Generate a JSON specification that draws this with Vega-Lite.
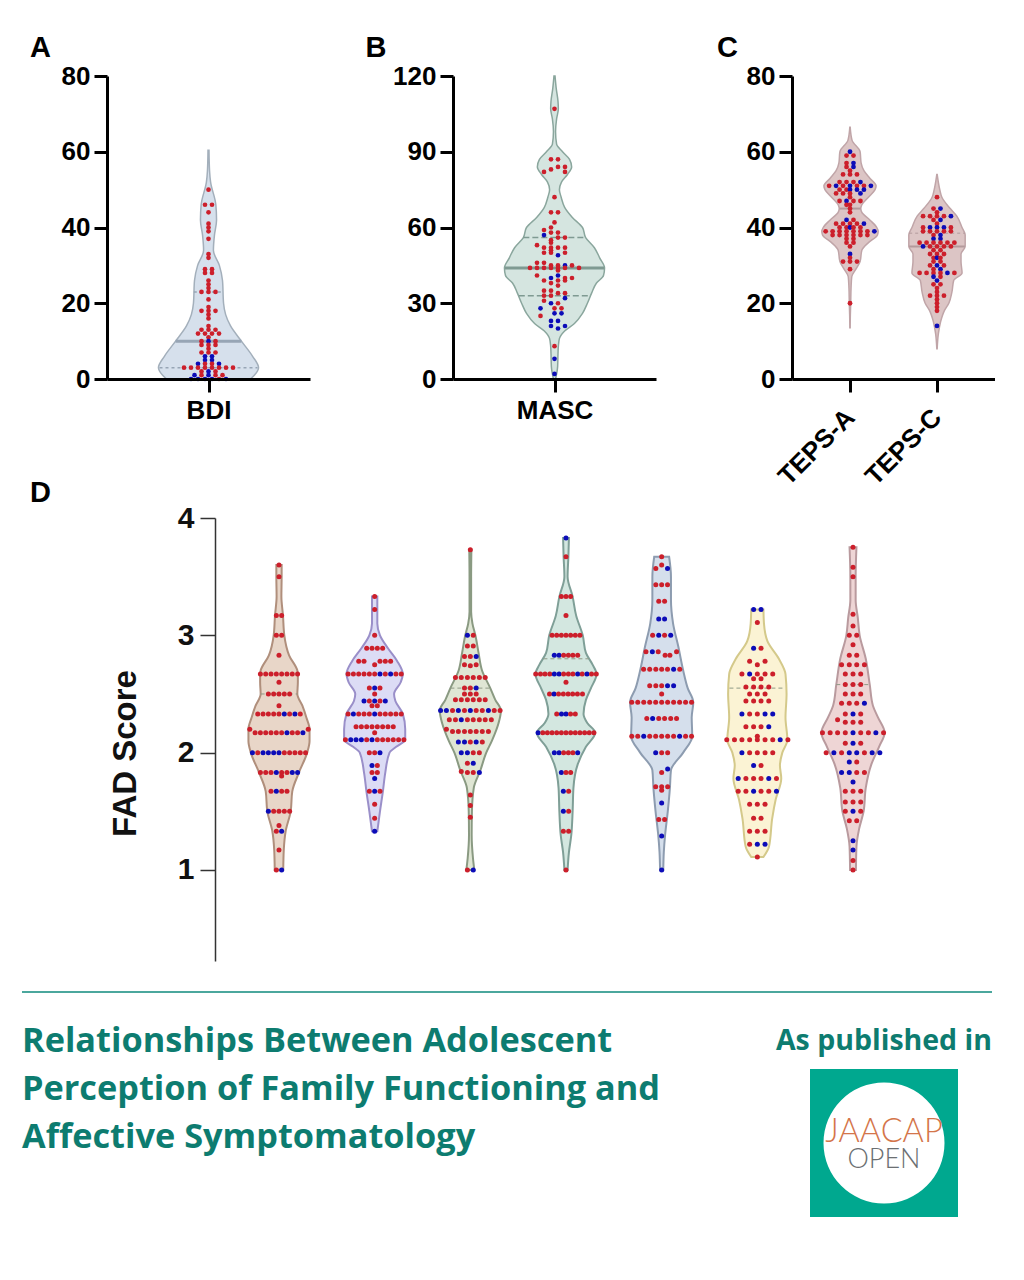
{
"$schema":"https://vega.github.io/schema/vega-lite/v6.json",
"background":"white",
"padding":{"left":21,"top":34,"right":0,"bottom":0},
"config":{"view":{"stroke":null},"font":"Liberation Sans"},
"datasets":{
"shapeA":[{"y":60.4,"l":-0.14,"r":0.14},{"y":55,"l":-0.3,"r":0.3},{"y":52,"l":-0.6,"r":0.6},{"y":46,"l":-2.1,"r":2.1},{"y":42,"l":-2.3,"r":2.3},{"y":38,"l":-1.7,"r":1.7},{"y":34,"l":-1.4,"r":1.4},{"y":30,"l":-3.1,"r":3.1},{"y":26,"l":-4,"r":4},{"y":20,"l":-4.3,"r":4.3},{"y":17,"l":-4.9,"r":4.9},{"y":14,"l":-6.3,"r":6.3},{"y":10,"l":-9.4,"r":9.4},{"y":6,"l":-12.6,"r":12.6},{"y":3,"l":-14.3,"r":14.3},{"y":1,"l":-13.1,"r":13.1},{"y":0,"l":-12,"r":12}],
"linesA":[{"y":10,"l":-9.4,"r":9.4,"m":"median"},{"y":3,"l":-14,"r":14,"m":"quartile"},{"y":23,"l":-4.2,"r":4.2,"m":"quartile"}],
"dotsA":[{"x":0,"y":50,"c":"r"},{"x":-1,"y":46,"c":"r"},{"x":1,"y":46,"c":"r"},{"x":0,"y":44,"c":"r"},{"x":0,"y":41,"c":"r"},{"x":0,"y":40,"c":"r"},{"x":0,"y":39,"c":"r"},{"x":0,"y":37,"c":"r"},{"x":0,"y":33,"c":"r"},{"x":0,"y":32,"c":"r"},{"x":-1,"y":29,"c":"r"},{"x":1,"y":29,"c":"r"},{"x":-1,"y":28,"c":"r"},{"x":1,"y":28,"c":"r"},{"x":0,"y":26,"c":"r"},{"x":0,"y":25,"c":"r"},{"x":0,"y":24,"c":"r"},{"x":-2,"y":23,"c":"r"},{"x":0,"y":23,"c":"r"},{"x":2,"y":23,"c":"r"},{"x":0,"y":21,"c":"r"},{"x":0,"y":19,"c":"r"},{"x":-2,"y":18,"c":"r"},{"x":0,"y":18,"c":"r"},{"x":2,"y":18,"c":"r"},{"x":0,"y":17,"c":"r"},{"x":0,"y":16,"c":"r"},{"x":0,"y":14,"c":"r"},{"x":-2,"y":13,"c":"r"},{"x":0,"y":13,"c":"r"},{"x":2,"y":13,"c":"r"},{"x":-3,"y":12,"c":"r"},{"x":-1,"y":12,"c":"r"},{"x":1,"y":12,"c":"r"},{"x":3,"y":12,"c":"r"},{"x":0,"y":11,"c":"r"},{"x":-2,"y":10,"c":"r"},{"x":0,"y":10,"c":"b"},{"x":2,"y":10,"c":"r"},{"x":-2,"y":9,"c":"r"},{"x":0,"y":9,"c":"r"},{"x":2,"y":9,"c":"r"},{"x":0,"y":8,"c":"r"},{"x":-2,"y":7,"c":"r"},{"x":0,"y":7,"c":"r"},{"x":2,"y":7,"c":"r"},{"x":-1,"y":6,"c":"b"},{"x":1,"y":6,"c":"b"},{"x":-1,"y":5,"c":"b"},{"x":1,"y":5,"c":"b"},{"x":-3,"y":4,"c":"b"},{"x":-1,"y":4,"c":"r"},{"x":1,"y":4,"c":"r"},{"x":3,"y":4,"c":"b"},{"x":-7,"y":3,"c":"r"},{"x":-5,"y":3,"c":"r"},{"x":-3,"y":3,"c":"r"},{"x":-1,"y":3,"c":"r"},{"x":1,"y":3,"c":"r"},{"x":3,"y":3,"c":"r"},{"x":5,"y":3,"c":"r"},{"x":7,"y":3,"c":"r"},{"x":-2,"y":2,"c":"r"},{"x":0,"y":2,"c":"b"},{"x":2,"y":2,"c":"r"},{"x":-4,"y":1,"c":"b"},{"x":-2,"y":1,"c":"r"},{"x":0,"y":1,"c":"b"},{"x":2,"y":1,"c":"r"},{"x":4,"y":1,"c":"r"},{"x":-5,"y":0,"c":"b"},{"x":-3,"y":0,"c":"b"},{"x":-1,"y":0,"c":"b"},{"x":1,"y":0,"c":"b"},{"x":3,"y":0,"c":"r"},{"x":5,"y":0,"c":"b"}],
"shapeB":[{"y":120,"l":-0.15,"r":0.15},{"y":115,"l":-0.5,"r":0.5},{"y":110,"l":-1,"r":1},{"y":107,"l":-1.1,"r":1.1},{"y":103,"l":-0.6,"r":0.6},{"y":98,"l":-0.3,"r":0.3},{"y":93,"l":-0.6,"r":0.6},{"y":90,"l":-2.3,"r":2.3},{"y":87,"l":-4.3,"r":4.3},{"y":84,"l":-4.9,"r":4.9},{"y":81,"l":-3.7,"r":3.7},{"y":78,"l":-2,"r":2},{"y":75,"l":-1.4,"r":1.4},{"y":72,"l":-1.9,"r":1.9},{"y":68,"l":-2.9,"r":2.9},{"y":64,"l":-5.1,"r":5.1},{"y":60,"l":-8,"r":8},{"y":56,"l":-8.9,"r":8.9},{"y":52,"l":-11.4,"r":11.4},{"y":48,"l":-12.9,"r":12.9},{"y":44,"l":-14.3,"r":14.3},{"y":41,"l":-14,"r":14},{"y":38,"l":-12,"r":12},{"y":34,"l":-10.6,"r":10.6},{"y":30,"l":-9.4,"r":9.4},{"y":26,"l":-8,"r":8},{"y":22,"l":-5.7,"r":5.7},{"y":19,"l":-2.9,"r":2.9},{"y":16,"l":-1.4,"r":1.4},{"y":13,"l":-1.1,"r":1.1},{"y":10,"l":-1,"r":1},{"y":5,"l":-0.9,"r":0.9},{"y":0,"l":-0.3,"r":0.3}],
"linesB":[{"y":44,"l":-14.2,"r":14.2,"m":"median"},{"y":56,"l":-8.9,"r":8.9,"m":"quartile"},{"y":33,"l":-10.2,"r":10.2,"m":"quartile"}],
"dotsB":[{"x":0,"y":107,"c":"r"},{"x":-1,"y":87,"c":"r"},{"x":1,"y":87,"c":"r"},{"x":1,"y":84,"c":"r"},{"x":3,"y":84,"c":"r"},{"x":-1,"y":83,"c":"r"},{"x":-3,"y":82,"c":"r"},{"x":3,"y":82,"c":"r"},{"x":0,"y":72,"c":"r"},{"x":-1,"y":66,"c":"r"},{"x":1,"y":66,"c":"r"},{"x":0,"y":62,"c":"r"},{"x":-1,"y":60,"c":"r"},{"x":-3,"y":59,"c":"r"},{"x":-1,"y":58,"c":"r"},{"x":1,"y":58,"c":"r"},{"x":-3,"y":57,"c":"b"},{"x":1,"y":56,"c":"r"},{"x":3,"y":56,"c":"r"},{"x":-1,"y":55,"c":"r"},{"x":-1,"y":54,"c":"r"},{"x":-5,"y":53,"c":"r"},{"x":-3,"y":52,"c":"r"},{"x":-1,"y":52,"c":"r"},{"x":1,"y":52,"c":"r"},{"x":3,"y":52,"c":"r"},{"x":-1,"y":51,"c":"r"},{"x":-3,"y":50,"c":"r"},{"x":-1,"y":50,"c":"r"},{"x":3,"y":50,"c":"r"},{"x":1,"y":49,"c":"b"},{"x":-5,"y":46,"c":"r"},{"x":-3,"y":46,"c":"r"},{"x":-1,"y":45,"c":"r"},{"x":1,"y":45,"c":"r"},{"x":3,"y":45,"c":"b"},{"x":5,"y":45,"c":"r"},{"x":-7,"y":44,"c":"r"},{"x":-5,"y":44,"c":"r"},{"x":-3,"y":44,"c":"r"},{"x":-1,"y":44,"c":"r"},{"x":1,"y":44,"c":"r"},{"x":3,"y":44,"c":"r"},{"x":7,"y":44,"c":"r"},{"x":1,"y":43,"c":"r"},{"x":-5,"y":41,"c":"r"},{"x":1,"y":41,"c":"b"},{"x":-1,"y":40,"c":"b"},{"x":3,"y":40,"c":"r"},{"x":5,"y":40,"c":"r"},{"x":-3,"y":39,"c":"r"},{"x":1,"y":39,"c":"r"},{"x":3,"y":39,"c":"r"},{"x":-1,"y":38,"c":"r"},{"x":1,"y":37,"c":"r"},{"x":-3,"y":35,"c":"r"},{"x":-1,"y":35,"c":"r"},{"x":1,"y":34,"c":"r"},{"x":3,"y":34,"c":"r"},{"x":-3,"y":33,"c":"r"},{"x":-1,"y":33,"c":"r"},{"x":3,"y":32,"c":"b"},{"x":-3,"y":31,"c":"r"},{"x":-1,"y":30,"c":"b"},{"x":1,"y":30,"c":"r"},{"x":-4,"y":28,"c":"b"},{"x":0,"y":28,"c":"r"},{"x":2,"y":28,"c":"r"},{"x":0,"y":26,"c":"b"},{"x":2,"y":26,"c":"b"},{"x":-4,"y":25,"c":"r"},{"x":-1,"y":23,"c":"b"},{"x":1,"y":23,"c":"b"},{"x":-1,"y":21,"c":"b"},{"x":3,"y":21,"c":"b"},{"x":1,"y":20,"c":"b"},{"x":0,"y":13,"c":"r"},{"x":0,"y":8,"c":"b"},{"x":0,"y":2,"c":"b"}],
"shapeC":[{"s":"A","y":66.5,"l":19.95,"r":20.05},{"s":"A","y":63,"l":19.4,"r":20.6},{"s":"A","y":60,"l":17.1,"r":22.9},{"s":"A","y":57,"l":16.8,"r":23.2},{"s":"A","y":55,"l":16,"r":24},{"s":"A","y":53,"l":14.3,"r":25.7},{"s":"A","y":51,"l":12.5,"r":27.5},{"s":"A","y":50,"l":12.8,"r":27.2},{"s":"A","y":48,"l":14.7,"r":25.3},{"s":"A","y":46,"l":16.6,"r":23.4},{"s":"A","y":45,"l":16.9,"r":23.1},{"s":"A","y":44,"l":16.6,"r":23.4},{"s":"A","y":42,"l":14.3,"r":25.7},{"s":"A","y":40,"l":12.3,"r":27.7},{"s":"A","y":39,"l":11.9,"r":28.1},{"s":"A","y":38,"l":12.1,"r":27.9},{"s":"A","y":36,"l":14.7,"r":25.3},{"s":"A","y":34,"l":16.6,"r":23.4},{"s":"A","y":31,"l":17.1,"r":22.9},{"s":"A","y":29,"l":18.3,"r":21.7},{"s":"A","y":27,"l":19.5,"r":20.5},{"s":"A","y":24,"l":19.7,"r":20.3},{"s":"A","y":20,"l":19.8,"r":20.2},{"s":"A","y":17,"l":19.9,"r":20.1},{"s":"A","y":13.5,"l":19.95,"r":20.05},
{"s":"C","y":54,"l":44.95,"r":45.05},{"s":"C","y":50,"l":44.2,"r":45.8},{"s":"C","y":48,"l":43.6,"r":46.4},{"s":"C","y":45,"l":41.2,"r":48.8},{"s":"C","y":43,"l":39.3,"r":50.7},{"s":"C","y":40,"l":37.8,"r":52.2},{"s":"C","y":38,"l":36.9,"r":53.1},{"s":"C","y":35,"l":36.9,"r":53.1},{"s":"C","y":33,"l":38.1,"r":51.9},{"s":"C","y":31,"l":38.1,"r":51.9},{"s":"C","y":28,"l":37.8,"r":52.2},{"s":"C","y":26,"l":40.2,"r":49.8},{"s":"C","y":23,"l":40.7,"r":49.3},{"s":"C","y":20,"l":41.6,"r":48.4},{"s":"C","y":18,"l":42.9,"r":47.1},{"s":"C","y":15,"l":44,"r":46},{"s":"C","y":12,"l":44.6,"r":45.4},{"s":"C","y":8,"l":44.95,"r":45.05}],
"linesC":[{"y":45,"l":17,"r":23,"m":"median"},{"y":35,"l":37,"r":53,"m":"median"},{"y":38.5,"l":37,"r":53,"m":"quartile"}],
"dotsC":[{"x":20,"y":60,"c":"b"},{"x":19,"y":59,"c":"r"},{"x":21,"y":59,"c":"r"},{"x":19,"y":57,"c":"r"},{"x":21,"y":57,"c":"b"},{"x":19,"y":56,"c":"r"},{"x":21,"y":56,"c":"b"},{"x":20,"y":55,"c":"r"},{"x":18,"y":54,"c":"r"},{"x":20,"y":54,"c":"r"},{"x":22,"y":54,"c":"r"},{"x":17,"y":52,"c":"r"},{"x":19,"y":52,"c":"r"},{"x":21,"y":52,"c":"r"},{"x":23,"y":52,"c":"b"},{"x":14,"y":51,"c":"r"},{"x":16,"y":51,"c":"b"},{"x":18,"y":51,"c":"r"},{"x":20,"y":51,"c":"b"},{"x":22,"y":51,"c":"r"},{"x":24,"y":51,"c":"r"},{"x":26,"y":51,"c":"b"},{"x":17,"y":50,"c":"r"},{"x":19,"y":50,"c":"r"},{"x":20,"y":50,"c":"b"},{"x":22,"y":50,"c":"b"},{"x":24,"y":50,"c":"b"},{"x":16,"y":49,"c":"r"},{"x":18,"y":49,"c":"r"},{"x":20,"y":49,"c":"r"},{"x":23,"y":49,"c":"b"},{"x":20,"y":48,"c":"r"},{"x":17,"y":47,"c":"r"},{"x":19,"y":47,"c":"b"},{"x":21,"y":47,"c":"r"},{"x":23,"y":47,"c":"r"},{"x":20,"y":46,"c":"r"},{"x":19,"y":46,"c":"r"},{"x":20,"y":45,"c":"r"},{"x":20,"y":44,"c":"r"},{"x":19,"y":42,"c":"b"},{"x":21,"y":42,"c":"r"},{"x":16,"y":41,"c":"r"},{"x":18,"y":41,"c":"r"},{"x":20,"y":41,"c":"r"},{"x":22,"y":41,"c":"r"},{"x":24,"y":41,"c":"b"},{"x":17,"y":40,"c":"r"},{"x":19,"y":40,"c":"r"},{"x":20,"y":40,"c":"b"},{"x":21,"y":40,"c":"r"},{"x":23,"y":40,"c":"r"},{"x":13,"y":39,"c":"r"},{"x":15,"y":39,"c":"r"},{"x":17,"y":39,"c":"r"},{"x":19,"y":39,"c":"r"},{"x":21,"y":39,"c":"r"},{"x":23,"y":39,"c":"r"},{"x":25,"y":39,"c":"r"},{"x":27,"y":39,"c":"b"},{"x":15,"y":38,"c":"r"},{"x":17,"y":38,"c":"r"},{"x":19,"y":38,"c":"r"},{"x":21,"y":38,"c":"r"},{"x":23,"y":38,"c":"r"},{"x":25,"y":38,"c":"r"},{"x":19,"y":37,"c":"r"},{"x":21,"y":37,"c":"r"},{"x":19,"y":36,"c":"r"},{"x":21,"y":36,"c":"r"},{"x":20,"y":35,"c":"r"},{"x":20,"y":33,"c":"b"},{"x":20,"y":32,"c":"r"},{"x":18,"y":31,"c":"r"},{"x":20,"y":31,"c":"r"},{"x":22,"y":31,"c":"r"},{"x":20,"y":29,"c":"r"},{"x":20,"y":20,"c":"r"},
{"x":45,"y":48,"c":"r"},{"x":44,"y":45,"c":"r"},{"x":46,"y":45,"c":"b"},{"x":45,"y":44,"c":"r"},{"x":41,"y":43,"c":"r"},{"x":43,"y":43,"c":"r"},{"x":45,"y":43,"c":"r"},{"x":47,"y":43,"c":"r"},{"x":49,"y":43,"c":"b"},{"x":46,"y":42,"c":"b"},{"x":44,"y":42,"c":"r"},{"x":45,"y":41,"c":"r"},{"x":41,"y":40,"c":"r"},{"x":43,"y":40,"c":"b"},{"x":45,"y":40,"c":"b"},{"x":47,"y":40,"c":"b"},{"x":49,"y":40,"c":"r"},{"x":41,"y":39,"c":"r"},{"x":43,"y":39,"c":"r"},{"x":45,"y":39,"c":"r"},{"x":47,"y":39,"c":"r"},{"x":49,"y":39,"c":"r"},{"x":44,"y":38,"c":"r"},{"x":46,"y":38,"c":"b"},{"x":44,"y":37,"c":"b"},{"x":46,"y":37,"c":"b"},{"x":40,"y":36,"c":"r"},{"x":42,"y":36,"c":"r"},{"x":44,"y":36,"c":"r"},{"x":46,"y":36,"c":"r"},{"x":48,"y":36,"c":"r"},{"x":50,"y":36,"c":"r"},{"x":41,"y":35,"c":"b"},{"x":43,"y":35,"c":"r"},{"x":45,"y":35,"c":"r"},{"x":47,"y":35,"c":"r"},{"x":49,"y":35,"c":"r"},{"x":44,"y":34,"c":"r"},{"x":46,"y":34,"c":"r"},{"x":43,"y":33,"c":"r"},{"x":45,"y":33,"c":"r"},{"x":47,"y":33,"c":"r"},{"x":44,"y":32,"c":"r"},{"x":45,"y":32,"c":"b"},{"x":46,"y":32,"c":"r"},{"x":44,"y":31,"c":"r"},{"x":46,"y":31,"c":"r"},{"x":43,"y":30,"c":"r"},{"x":45,"y":30,"c":"b"},{"x":47,"y":30,"c":"r"},{"x":44,"y":29,"c":"r"},{"x":46,"y":29,"c":"b"},{"x":40,"y":28,"c":"r"},{"x":42,"y":28,"c":"r"},{"x":44,"y":28,"c":"r"},{"x":46,"y":28,"c":"r"},{"x":48,"y":28,"c":"b"},{"x":50,"y":28,"c":"r"},{"x":44,"y":27,"c":"b"},{"x":46,"y":27,"c":"r"},{"x":45,"y":26,"c":"b"},{"x":44,"y":25,"c":"r"},{"x":46,"y":25,"c":"r"},{"x":45,"y":24,"c":"r"},{"x":45,"y":23,"c":"r"},{"x":43,"y":22,"c":"r"},{"x":45,"y":22,"c":"r"},{"x":47,"y":22,"c":"r"},{"x":45,"y":21,"c":"r"},{"x":45,"y":20,"c":"r"},{"x":45,"y":19,"c":"r"},{"x":45,"y":18,"c":"r"},{"x":45,"y":14,"c":"b"}],
"shapeD":[
{"s":36,"y":3.6,"l":35,"r":37},{"s":36,"y":3.5,"l":35,"r":37},{"s":36,"y":3.33,"l":35.1,"r":36.9},{"s":36,"y":3.17,"l":34.5,"r":37.5},{"s":36,"y":3,"l":34,"r":38},{"s":36,"y":2.83,"l":32.2,"r":39.8},{"s":36,"y":2.7,"l":29.1,"r":42.9},{"s":36,"y":2.67,"l":28.9,"r":43.1},{"s":36,"y":2.6,"l":28.9,"r":43.1},{"s":36,"y":2.5,"l":29.1,"r":42.9},{"s":36,"y":2.4,"l":27.2,"r":44.8},{"s":36,"y":2.3,"l":25.7,"r":46.3},{"s":36,"y":2.2,"l":24.5,"r":47.5},{"s":36,"y":2.1,"l":24.5,"r":47.5},{"s":36,"y":2,"l":25.4,"r":46.6},{"s":36,"y":1.83,"l":28.5,"r":43.5},{"s":36,"y":1.67,"l":31,"r":41},{"s":36,"y":1.5,"l":31.6,"r":40.4},{"s":36,"y":1.33,"l":33.5,"r":38.5},{"s":36,"y":1.17,"l":34.2,"r":37.8},{"s":36,"y":1,"l":34.4,"r":37.6},
{"s":72,"y":3.33,"l":71,"r":73},{"s":72,"y":3.22,"l":71,"r":73},{"s":72,"y":3.1,"l":71,"r":73},{"s":72,"y":3,"l":70,"r":74},{"s":72,"y":2.89,"l":67,"r":77},{"s":72,"y":2.78,"l":63.5,"r":80.5},{"s":72,"y":2.67,"l":61.4,"r":82.6},{"s":72,"y":2.6,"l":62.2,"r":81.8},{"s":72,"y":2.5,"l":64.7,"r":79.3},{"s":72,"y":2.44,"l":64.2,"r":79.8},{"s":72,"y":2.33,"l":61.4,"r":82.6},{"s":72,"y":2.2,"l":60.5,"r":83.5},{"s":72,"y":2.11,"l":60.5,"r":83.5},{"s":72,"y":2.05,"l":63.9,"r":80.1},{"s":72,"y":2,"l":66.4,"r":77.6},{"s":72,"y":1.83,"l":68,"r":76},{"s":72,"y":1.67,"l":68.9,"r":75.1},{"s":72,"y":1.5,"l":70,"r":74},{"s":72,"y":1.33,"l":71,"r":73},
{"s":108,"y":3.73,"l":107.6,"r":108.4},{"s":108,"y":3.5,"l":107.7,"r":108.3},{"s":108,"y":3.2,"l":107.7,"r":108.3},{"s":108,"y":3.1,"l":107.2,"r":108.8},{"s":108,"y":3,"l":106.1,"r":109.9},{"s":108,"y":2.85,"l":104.9,"r":111.1},{"s":108,"y":2.7,"l":103.6,"r":112.4},{"s":108,"y":2.55,"l":100.5,"r":115.5},{"s":108,"y":2.45,"l":98.6,"r":117.4},{"s":108,"y":2.36,"l":96.5,"r":119.5},{"s":108,"y":2.25,"l":97.4,"r":118.6},{"s":108,"y":2.1,"l":99.9,"r":116.1},{"s":108,"y":2,"l":102,"r":114},{"s":108,"y":1.85,"l":104.2,"r":111.8},{"s":108,"y":1.7,"l":106.7,"r":109.3},{"s":108,"y":1.5,"l":107.4,"r":108.6},{"s":108,"y":1.3,"l":107.5,"r":108.5},{"s":108,"y":1.1,"l":107,"r":109},{"s":108,"y":1,"l":106.5,"r":109.5},
{"s":144,"y":3.83,"l":142.9,"r":145.1},{"s":144,"y":3.67,"l":143.1,"r":144.9},{"s":144,"y":3.5,"l":143.4,"r":144.6},{"s":144,"y":3.33,"l":141.5,"r":146.5},{"s":144,"y":3.17,"l":140.2,"r":147.8},{"s":144,"y":3,"l":137.7,"r":150.3},{"s":144,"y":2.85,"l":136.5,"r":151.5},{"s":144,"y":2.75,"l":134,"r":154},{"s":144,"y":2.67,"l":132.5,"r":155.5},{"s":144,"y":2.55,"l":134.6,"r":153.4},{"s":144,"y":2.45,"l":136.5,"r":151.5},{"s":144,"y":2.33,"l":137.4,"r":150.6},{"s":144,"y":2.25,"l":135.9,"r":152.1},{"s":144,"y":2.17,"l":133,"r":155},{"s":144,"y":2.05,"l":136.5,"r":151.5},{"s":144,"y":1.9,"l":139.6,"r":148.4},{"s":144,"y":1.7,"l":141.2,"r":146.8},{"s":144,"y":1.5,"l":141.5,"r":146.5},{"s":144,"y":1.3,"l":142,"r":146},{"s":144,"y":1.15,"l":142.9,"r":145.1},{"s":144,"y":1,"l":143.4,"r":144.6},
{"s":180,"y":3.67,"l":177.2,"r":182.8},{"s":180,"y":3.5,"l":176.5,"r":183.5},{"s":180,"y":3.3,"l":176.5,"r":183.5},{"s":180,"y":3.1,"l":175.7,"r":184.3},{"s":180,"y":2.9,"l":173.7,"r":186.3},{"s":180,"y":2.7,"l":171.9,"r":188.1},{"s":180,"y":2.55,"l":170.2,"r":189.8},{"s":180,"y":2.43,"l":168.1,"r":191.9},{"s":180,"y":2.3,"l":168.7,"r":191.3},{"s":180,"y":2.14,"l":168.5,"r":191.5},{"s":180,"y":2,"l":171.9,"r":188.1},{"s":180,"y":1.85,"l":176.5,"r":183.5},{"s":180,"y":1.7,"l":176.9,"r":183.1},{"s":180,"y":1.5,"l":177.7,"r":182.3},{"s":180,"y":1.3,"l":178.7,"r":181.3},{"s":180,"y":1.15,"l":179.2,"r":180.8},{"s":180,"y":1,"l":179.4,"r":180.6},
{"s":216,"y":3.22,"l":213.7,"r":218.3},{"s":216,"y":3.1,"l":213.5,"r":218.5},{"s":216,"y":2.95,"l":212.2,"r":219.8},{"s":216,"y":2.8,"l":207.9,"r":224.1},{"s":216,"y":2.67,"l":205.4,"r":226.6},{"s":216,"y":2.5,"l":205,"r":227},{"s":216,"y":2.3,"l":205.4,"r":226.6},{"s":216,"y":2.11,"l":204.7,"r":227.3},{"s":216,"y":2,"l":206.6,"r":225.4},{"s":216,"y":1.89,"l":207.5,"r":224.5},{"s":216,"y":1.78,"l":207,"r":225},{"s":216,"y":1.6,"l":209.1,"r":222.9},{"s":216,"y":1.44,"l":210.4,"r":221.6},{"s":216,"y":1.2,"l":211.6,"r":220.4},{"s":216,"y":1.11,"l":213.7,"r":218.3},
{"s":252,"y":3.75,"l":250.7,"r":253.3},{"s":252,"y":3.5,"l":251,"r":253},{"s":252,"y":3.3,"l":251,"r":253},{"s":252,"y":3.15,"l":250.2,"r":253.8},{"s":252,"y":3,"l":249.5,"r":254.5},{"s":252,"y":2.8,"l":247.2,"r":256.8},{"s":252,"y":2.58,"l":245.7,"r":258.3},{"s":252,"y":2.4,"l":244.5,"r":259.5},{"s":252,"y":2.3,"l":242.6,"r":261.4},{"s":252,"y":2.17,"l":240.1,"r":263.9},{"s":252,"y":2.05,"l":242.2,"r":261.8},{"s":252,"y":1.9,"l":245.1,"r":258.9},{"s":252,"y":1.7,"l":247.2,"r":256.8},{"s":252,"y":1.5,"l":248,"r":256},{"s":252,"y":1.35,"l":249.7,"r":254.3},{"s":252,"y":1.2,"l":250.7,"r":253.3},{"s":252,"y":1,"l":250.9,"r":253.1}],
"linesD":[{"s":36,"y":2.5,"l":29.1,"r":42.9},{"s":108,"y":2.55,"l":100.5,"r":115.5},{"s":144,"y":2.8,"l":135.5,"r":152.5},{"s":216,"y":2.55,"l":205.5,"r":226.5},{"s":252,"y":2.58,"l":245.7,"r":258.3}],
"dotsD":[
{"x":36,"y":3.6,"c":"r"},{"x":36,"y":3.5,"c":"r"},{"x":35,"y":3.17,"c":"r"},{"x":37,"y":3.17,"c":"r"},{"x":35,"y":3,"c":"r"},{"x":37,"y":3,"c":"r"},{"x":36,"y":2.83,"c":"r"},{"x":29,"y":2.67,"c":"r"},{"x":31,"y":2.67,"c":"r"},{"x":33,"y":2.67,"c":"r"},{"x":35,"y":2.67,"c":"r"},{"x":37,"y":2.67,"c":"r"},{"x":39,"y":2.67,"c":"r"},{"x":41,"y":2.67,"c":"r"},{"x":43,"y":2.67,"c":"r"},{"x":36,"y":2.6,"c":"r"},{"x":32,"y":2.5,"c":"r"},{"x":34,"y":2.5,"c":"r"},{"x":36,"y":2.5,"c":"r"},{"x":38,"y":2.5,"c":"r"},{"x":40,"y":2.5,"c":"r"},{"x":36,"y":2.4,"c":"r"},{"x":28,"y":2.33,"c":"r"},{"x":30,"y":2.33,"c":"r"},{"x":32,"y":2.33,"c":"r"},{"x":34,"y":2.33,"c":"r"},{"x":36,"y":2.33,"c":"r"},{"x":38,"y":2.33,"c":"b"},{"x":40,"y":2.33,"c":"r"},{"x":42,"y":2.33,"c":"b"},{"x":44,"y":2.33,"c":"r"},{"x":25,"y":2.2,"c":"r"},{"x":47,"y":2.2,"c":"r"},{"x":27,"y":2.17,"c":"r"},{"x":29,"y":2.17,"c":"r"},{"x":31,"y":2.17,"c":"r"},{"x":33,"y":2.17,"c":"r"},{"x":35,"y":2.17,"c":"r"},{"x":37,"y":2.17,"c":"r"},{"x":39,"y":2.17,"c":"b"},{"x":41,"y":2.17,"c":"r"},{"x":43,"y":2.17,"c":"r"},{"x":45,"y":2.17,"c":"b"},{"x":26,"y":2,"c":"b"},{"x":28,"y":2,"c":"r"},{"x":30,"y":2,"c":"b"},{"x":32,"y":2,"c":"b"},{"x":34,"y":2,"c":"b"},{"x":36,"y":2,"c":"b"},{"x":38,"y":2,"c":"r"},{"x":40,"y":2,"c":"r"},{"x":42,"y":2,"c":"r"},{"x":44,"y":2,"c":"r"},{"x":46,"y":2,"c":"r"},{"x":29,"y":1.83,"c":"r"},{"x":31,"y":1.83,"c":"r"},{"x":33,"y":1.83,"c":"r"},{"x":35,"y":1.83,"c":"b"},{"x":37,"y":1.83,"c":"r"},{"x":39,"y":1.83,"c":"r"},{"x":41,"y":1.83,"c":"b"},{"x":43,"y":1.83,"c":"b"},{"x":37,"y":1.8,"c":"r"},{"x":33,"y":1.67,"c":"r"},{"x":35,"y":1.67,"c":"b"},{"x":37,"y":1.67,"c":"r"},{"x":39,"y":1.67,"c":"r"},{"x":32,"y":1.5,"c":"b"},{"x":34,"y":1.5,"c":"r"},{"x":36,"y":1.5,"c":"r"},{"x":38,"y":1.5,"c":"r"},{"x":40,"y":1.5,"c":"r"},{"x":36,"y":1.38,"c":"r"},{"x":35,"y":1.33,"c":"r"},{"x":37,"y":1.33,"c":"b"},{"x":36,"y":1.17,"c":"r"},{"x":35,"y":1,"c":"r"},{"x":37,"y":1,"c":"b"},
{"x":72,"y":3.33,"c":"r"},{"x":72,"y":3.22,"c":"r"},{"x":72,"y":3,"c":"r"},{"x":69,"y":2.89,"c":"r"},{"x":71,"y":2.89,"c":"r"},{"x":73,"y":2.89,"c":"r"},{"x":75,"y":2.89,"c":"r"},{"x":66,"y":2.78,"c":"r"},{"x":68,"y":2.78,"c":"r"},{"x":74,"y":2.78,"c":"r"},{"x":76,"y":2.78,"c":"r"},{"x":78,"y":2.78,"c":"r"},{"x":72,"y":2.75,"c":"r"},{"x":62,"y":2.67,"c":"r"},{"x":64,"y":2.67,"c":"r"},{"x":66,"y":2.67,"c":"r"},{"x":68,"y":2.67,"c":"r"},{"x":70,"y":2.67,"c":"r"},{"x":72,"y":2.67,"c":"r"},{"x":74,"y":2.67,"c":"b"},{"x":76,"y":2.67,"c":"r"},{"x":78,"y":2.67,"c":"b"},{"x":80,"y":2.67,"c":"r"},{"x":82,"y":2.67,"c":"r"},{"x":70,"y":2.55,"c":"r"},{"x":72,"y":2.55,"c":"b"},{"x":74,"y":2.55,"c":"r"},{"x":72,"y":2.5,"c":"r"},{"x":68,"y":2.44,"c":"b"},{"x":70,"y":2.44,"c":"r"},{"x":72,"y":2.44,"c":"b"},{"x":74,"y":2.44,"c":"r"},{"x":76,"y":2.44,"c":"b"},{"x":71,"y":2.4,"c":"r"},{"x":73,"y":2.4,"c":"r"},{"x":62,"y":2.33,"c":"r"},{"x":64,"y":2.33,"c":"b"},{"x":66,"y":2.33,"c":"r"},{"x":68,"y":2.33,"c":"r"},{"x":70,"y":2.33,"c":"r"},{"x":72,"y":2.33,"c":"b"},{"x":74,"y":2.33,"c":"r"},{"x":76,"y":2.33,"c":"r"},{"x":78,"y":2.33,"c":"r"},{"x":80,"y":2.33,"c":"r"},{"x":82,"y":2.33,"c":"r"},{"x":65,"y":2.22,"c":"r"},{"x":67,"y":2.22,"c":"r"},{"x":69,"y":2.22,"c":"r"},{"x":71,"y":2.22,"c":"r"},{"x":73,"y":2.22,"c":"r"},{"x":75,"y":2.22,"c":"r"},{"x":77,"y":2.22,"c":"r"},{"x":79,"y":2.22,"c":"r"},{"x":72,"y":2.17,"c":"r"},{"x":61,"y":2.11,"c":"r"},{"x":63,"y":2.11,"c":"b"},{"x":65,"y":2.11,"c":"b"},{"x":67,"y":2.11,"c":"b"},{"x":69,"y":2.11,"c":"r"},{"x":71,"y":2.11,"c":"b"},{"x":73,"y":2.11,"c":"r"},{"x":75,"y":2.11,"c":"r"},{"x":77,"y":2.11,"c":"r"},{"x":79,"y":2.11,"c":"r"},{"x":81,"y":2.11,"c":"r"},{"x":83,"y":2.11,"c":"r"},{"x":70,"y":2,"c":"r"},{"x":72,"y":2,"c":"r"},{"x":74,"y":2,"c":"b"},{"x":71,"y":1.89,"c":"b"},{"x":73,"y":1.89,"c":"r"},{"x":71,"y":1.83,"c":"r"},{"x":73,"y":1.83,"c":"r"},{"x":72,"y":1.78,"c":"b"},{"x":70,"y":1.67,"c":"r"},{"x":72,"y":1.67,"c":"b"},{"x":74,"y":1.67,"c":"r"},{"x":72,"y":1.56,"c":"r"},{"x":72,"y":1.44,"c":"r"},{"x":72,"y":1.33,"c":"b"},
{"x":108,"y":3.73,"c":"r"},{"x":106.9,"y":3,"c":"b"},{"x":109.1,"y":3,"c":"r"},{"x":106.9,"y":2.91,"c":"r"},{"x":109.1,"y":2.91,"c":"r"},{"x":105.8,"y":2.82,"c":"r"},{"x":108,"y":2.82,"c":"r"},{"x":110.2,"y":2.82,"c":"b"},{"x":105.8,"y":2.75,"c":"r"},{"x":110.2,"y":2.75,"c":"r"},{"x":108,"y":2.74,"c":"r"},{"x":102.4,"y":2.64,"c":"r"},{"x":104.6,"y":2.64,"c":"r"},{"x":106.9,"y":2.64,"c":"r"},{"x":109.1,"y":2.64,"c":"r"},{"x":111.4,"y":2.64,"c":"r"},{"x":113.6,"y":2.64,"c":"r"},{"x":105.8,"y":2.55,"c":"r"},{"x":108,"y":2.55,"c":"r"},{"x":110.2,"y":2.55,"c":"b"},{"x":105.8,"y":2.5,"c":"r"},{"x":108,"y":2.5,"c":"r"},{"x":110.2,"y":2.5,"c":"r"},{"x":102.4,"y":2.45,"c":"r"},{"x":104.6,"y":2.45,"c":"r"},{"x":106.9,"y":2.45,"c":"r"},{"x":109.1,"y":2.45,"c":"r"},{"x":111.4,"y":2.45,"c":"r"},{"x":113.6,"y":2.45,"c":"r"},{"x":96.8,"y":2.36,"c":"b"},{"x":99,"y":2.36,"c":"b"},{"x":101.3,"y":2.36,"c":"r"},{"x":103.5,"y":2.36,"c":"b"},{"x":105.8,"y":2.36,"c":"r"},{"x":108,"y":2.36,"c":"b"},{"x":110.2,"y":2.36,"c":"r"},{"x":112.5,"y":2.36,"c":"r"},{"x":114.8,"y":2.36,"c":"b"},{"x":117,"y":2.36,"c":"r"},{"x":119.2,"y":2.36,"c":"r"},{"x":100.1,"y":2.28,"c":"r"},{"x":102.4,"y":2.28,"c":"r"},{"x":104.6,"y":2.28,"c":"b"},{"x":106.9,"y":2.28,"c":"r"},{"x":109.1,"y":2.28,"c":"r"},{"x":111.4,"y":2.28,"c":"r"},{"x":113.6,"y":2.28,"c":"r"},{"x":115.9,"y":2.28,"c":"r"},{"x":99,"y":2.2,"c":"r"},{"x":101.3,"y":2.18,"c":"r"},{"x":103.5,"y":2.18,"c":"r"},{"x":105.8,"y":2.18,"c":"r"},{"x":108,"y":2.18,"c":"r"},{"x":110.2,"y":2.18,"c":"r"},{"x":112.5,"y":2.18,"c":"r"},{"x":114.8,"y":2.18,"c":"r"},{"x":103.5,"y":2.09,"c":"b"},{"x":105.8,"y":2.09,"c":"b"},{"x":108,"y":2.09,"c":"r"},{"x":110.2,"y":2.09,"c":"b"},{"x":112.5,"y":2.09,"c":"r"},{"x":104.6,"y":2,"c":"b"},{"x":106.9,"y":2,"c":"b"},{"x":109.1,"y":2,"c":"r"},{"x":111.4,"y":2,"c":"r"},{"x":106.9,"y":1.91,"c":"r"},{"x":109.1,"y":1.91,"c":"b"},{"x":104.6,"y":1.84,"c":"r"},{"x":106.9,"y":1.83,"c":"r"},{"x":109.1,"y":1.83,"c":"r"},{"x":111.4,"y":1.83,"c":"b"},{"x":108,"y":1.64,"c":"r"},{"x":108,"y":1.55,"c":"r"},{"x":108,"y":1.45,"c":"r"},{"x":106.9,"y":1,"c":"r"},{"x":109.1,"y":1,"c":"b"},
{"x":144,"y":3.83,"c":"b"},{"x":144,"y":3.67,"c":"r"},{"x":142.25,"y":3.33,"c":"r"},{"x":144,"y":3.33,"c":"r"},{"x":145.75,"y":3.33,"c":"r"},{"x":144,"y":3.17,"c":"r"},{"x":138.75,"y":3,"c":"r"},{"x":140.5,"y":3,"c":"r"},{"x":142.25,"y":3,"c":"r"},{"x":144,"y":3,"c":"r"},{"x":145.75,"y":3,"c":"r"},{"x":147.5,"y":3,"c":"r"},{"x":149.25,"y":3,"c":"r"},{"x":139.6,"y":2.83,"c":"b"},{"x":141.4,"y":2.83,"c":"b"},{"x":143.1,"y":2.83,"c":"r"},{"x":144.9,"y":2.83,"c":"r"},{"x":146.6,"y":2.83,"c":"r"},{"x":148.4,"y":2.83,"c":"r"},{"x":132.6,"y":2.67,"c":"r"},{"x":134.4,"y":2.67,"c":"r"},{"x":136.1,"y":2.67,"c":"r"},{"x":137.9,"y":2.67,"c":"r"},{"x":139.6,"y":2.67,"c":"b"},{"x":141.4,"y":2.67,"c":"b"},{"x":143.1,"y":2.67,"c":"r"},{"x":144.9,"y":2.67,"c":"r"},{"x":146.6,"y":2.67,"c":"r"},{"x":148.4,"y":2.67,"c":"b"},{"x":150.1,"y":2.67,"c":"r"},{"x":151.9,"y":2.67,"c":"b"},{"x":153.6,"y":2.67,"c":"r"},{"x":155.4,"y":2.67,"c":"r"},{"x":144,"y":2.6,"c":"r"},{"x":137.8,"y":2.5,"c":"r"},{"x":139.5,"y":2.5,"c":"b"},{"x":141.2,"y":2.5,"c":"r"},{"x":143,"y":2.5,"c":"r"},{"x":144.8,"y":2.5,"c":"r"},{"x":146.5,"y":2.5,"c":"r"},{"x":148.3,"y":2.5,"c":"r"},{"x":150.2,"y":2.5,"c":"r"},{"x":140.5,"y":2.33,"c":"r"},{"x":142.3,"y":2.33,"c":"b"},{"x":144,"y":2.33,"c":"b"},{"x":145.7,"y":2.33,"c":"r"},{"x":147.5,"y":2.33,"c":"r"},{"x":133.5,"y":2.17,"c":"b"},{"x":135.25,"y":2.17,"c":"r"},{"x":137,"y":2.17,"c":"r"},{"x":138.75,"y":2.17,"c":"r"},{"x":140.5,"y":2.17,"c":"r"},{"x":142.25,"y":2.17,"c":"r"},{"x":144,"y":2.17,"c":"r"},{"x":145.75,"y":2.17,"c":"r"},{"x":147.5,"y":2.17,"c":"r"},{"x":149.25,"y":2.17,"c":"r"},{"x":151,"y":2.17,"c":"r"},{"x":152.75,"y":2.17,"c":"r"},{"x":154.5,"y":2.17,"c":"r"},{"x":139.6,"y":2,"c":"b"},{"x":141.4,"y":2,"c":"b"},{"x":143.1,"y":2,"c":"r"},{"x":144.9,"y":2,"c":"r"},{"x":146.6,"y":2,"c":"r"},{"x":148.4,"y":2,"c":"b"},{"x":142.25,"y":1.83,"c":"b"},{"x":144,"y":1.83,"c":"r"},{"x":145.75,"y":1.83,"c":"r"},{"x":143,"y":1.67,"c":"b"},{"x":145,"y":1.67,"c":"r"},{"x":143,"y":1.5,"c":"b"},{"x":145,"y":1.5,"c":"r"},{"x":143,"y":1.33,"c":"r"},{"x":145,"y":1.33,"c":"r"},{"x":144,"y":1,"c":"r"},
{"x":180,"y":3.67,"c":"r"},{"x":180,"y":3.6,"c":"r"},{"x":177.8,"y":3.57,"c":"r"},{"x":182.2,"y":3.57,"c":"b"},{"x":177.8,"y":3.43,"c":"r"},{"x":180,"y":3.43,"c":"r"},{"x":182.2,"y":3.43,"c":"r"},{"x":178.9,"y":3.29,"c":"r"},{"x":181.1,"y":3.29,"c":"r"},{"x":178.9,"y":3.14,"c":"b"},{"x":181.1,"y":3.14,"c":"b"},{"x":176.6,"y":3,"c":"r"},{"x":178.9,"y":3,"c":"b"},{"x":181.1,"y":3,"c":"r"},{"x":183.4,"y":3,"c":"b"},{"x":174.1,"y":2.86,"c":"r"},{"x":176.5,"y":2.86,"c":"b"},{"x":178.7,"y":2.86,"c":"r"},{"x":185.6,"y":2.86,"c":"r"},{"x":181.3,"y":2.83,"c":"r"},{"x":183.1,"y":2.83,"c":"r"},{"x":173.2,"y":2.71,"c":"r"},{"x":175.5,"y":2.71,"c":"r"},{"x":177.8,"y":2.71,"c":"r"},{"x":180,"y":2.71,"c":"r"},{"x":182.2,"y":2.71,"c":"r"},{"x":184.5,"y":2.71,"c":"b"},{"x":186.8,"y":2.71,"c":"r"},{"x":175.5,"y":2.57,"c":"r"},{"x":177.8,"y":2.57,"c":"r"},{"x":180,"y":2.57,"c":"r"},{"x":182.2,"y":2.57,"c":"b"},{"x":184.5,"y":2.57,"c":"b"},{"x":180,"y":2.5,"c":"r"},{"x":168.75,"y":2.43,"c":"r"},{"x":171,"y":2.43,"c":"r"},{"x":173.25,"y":2.43,"c":"r"},{"x":175.5,"y":2.43,"c":"r"},{"x":177.75,"y":2.43,"c":"r"},{"x":180,"y":2.43,"c":"r"},{"x":182.25,"y":2.43,"c":"r"},{"x":184.5,"y":2.43,"c":"r"},{"x":186.75,"y":2.43,"c":"r"},{"x":189,"y":2.43,"c":"r"},{"x":191.25,"y":2.43,"c":"r"},{"x":174.4,"y":2.29,"c":"r"},{"x":176.6,"y":2.29,"c":"b"},{"x":178.9,"y":2.29,"c":"r"},{"x":181.1,"y":2.29,"c":"r"},{"x":183.4,"y":2.29,"c":"r"},{"x":185.6,"y":2.29,"c":"r"},{"x":168.75,"y":2.14,"c":"r"},{"x":171,"y":2.14,"c":"r"},{"x":173.25,"y":2.14,"c":"b"},{"x":175.5,"y":2.14,"c":"r"},{"x":177.75,"y":2.14,"c":"r"},{"x":180,"y":2.14,"c":"r"},{"x":182.25,"y":2.14,"c":"r"},{"x":184.5,"y":2.14,"c":"r"},{"x":186.75,"y":2.14,"c":"b"},{"x":189,"y":2.14,"c":"r"},{"x":191.25,"y":2.14,"c":"r"},{"x":177.75,"y":2,"c":"b"},{"x":180,"y":2,"c":"r"},{"x":182.25,"y":2,"c":"r"},{"x":182.25,"y":1.86,"c":"b"},{"x":180,"y":1.83,"c":"r"},{"x":177.75,"y":1.71,"c":"r"},{"x":180,"y":1.71,"c":"r"},{"x":182.25,"y":1.71,"c":"r"},{"x":180,"y":1.68,"c":"r"},{"x":180,"y":1.57,"c":"b"},{"x":178.9,"y":1.43,"c":"r"},{"x":181.1,"y":1.43,"c":"r"},{"x":180,"y":1.29,"c":"b"},{"x":180,"y":1,"c":"b"},
{"x":214.6,"y":3.22,"c":"b"},{"x":217.4,"y":3.22,"c":"b"},{"x":216,"y":3.11,"c":"r"},{"x":214.6,"y":2.89,"c":"b"},{"x":217.4,"y":2.89,"c":"r"},{"x":213.1,"y":2.78,"c":"r"},{"x":218.9,"y":2.78,"c":"r"},{"x":216,"y":2.75,"c":"r"},{"x":210.2,"y":2.67,"c":"r"},{"x":213.1,"y":2.67,"c":"b"},{"x":216,"y":2.67,"c":"r"},{"x":218.9,"y":2.67,"c":"r"},{"x":221.8,"y":2.67,"c":"r"},{"x":214.6,"y":2.63,"c":"r"},{"x":217.4,"y":2.63,"c":"r"},{"x":211.7,"y":2.56,"c":"r"},{"x":214.6,"y":2.56,"c":"r"},{"x":217.4,"y":2.56,"c":"r"},{"x":220.3,"y":2.56,"c":"r"},{"x":213.1,"y":2.5,"c":"r"},{"x":216,"y":2.5,"c":"r"},{"x":218.9,"y":2.5,"c":"r"},{"x":211.7,"y":2.44,"c":"r"},{"x":214.6,"y":2.44,"c":"r"},{"x":217.4,"y":2.44,"c":"r"},{"x":220.3,"y":2.44,"c":"r"},{"x":210.2,"y":2.33,"c":"b"},{"x":213.1,"y":2.33,"c":"r"},{"x":216,"y":2.33,"c":"r"},{"x":218.9,"y":2.33,"c":"b"},{"x":221.8,"y":2.33,"c":"b"},{"x":211.7,"y":2.22,"c":"r"},{"x":214.6,"y":2.22,"c":"r"},{"x":217.4,"y":2.22,"c":"r"},{"x":220.3,"y":2.22,"c":"b"},{"x":216,"y":2.14,"c":"r"},{"x":204.5,"y":2.11,"c":"r"},{"x":207.4,"y":2.11,"c":"r"},{"x":210.2,"y":2.11,"c":"r"},{"x":213.1,"y":2.11,"c":"r"},{"x":216,"y":2.11,"c":"r"},{"x":218.9,"y":2.11,"c":"r"},{"x":221.8,"y":2.11,"c":"r"},{"x":224.6,"y":2.11,"c":"b"},{"x":227.5,"y":2.11,"c":"r"},{"x":210.2,"y":2,"c":"b"},{"x":213.1,"y":2,"c":"r"},{"x":216,"y":2,"c":"r"},{"x":218.9,"y":2,"c":"r"},{"x":221.8,"y":2,"c":"r"},{"x":214.6,"y":1.89,"c":"b"},{"x":217.4,"y":1.89,"c":"r"},{"x":208.8,"y":1.78,"c":"b"},{"x":211.7,"y":1.78,"c":"r"},{"x":214.6,"y":1.78,"c":"r"},{"x":217.4,"y":1.78,"c":"r"},{"x":220.3,"y":1.78,"c":"b"},{"x":223.2,"y":1.78,"c":"r"},{"x":208.8,"y":1.67,"c":"r"},{"x":211.7,"y":1.67,"c":"r"},{"x":214.6,"y":1.67,"c":"b"},{"x":217.4,"y":1.67,"c":"r"},{"x":220.3,"y":1.67,"c":"r"},{"x":223.2,"y":1.67,"c":"b"},{"x":213.1,"y":1.56,"c":"r"},{"x":216,"y":1.56,"c":"r"},{"x":218.9,"y":1.56,"c":"r"},{"x":214.6,"y":1.44,"c":"r"},{"x":217.4,"y":1.44,"c":"r"},{"x":213.1,"y":1.33,"c":"r"},{"x":216,"y":1.33,"c":"r"},{"x":218.9,"y":1.33,"c":"r"},{"x":213.1,"y":1.22,"c":"r"},{"x":216,"y":1.22,"c":"b"},{"x":218.9,"y":1.22,"c":"b"},{"x":216,"y":1.11,"c":"r"},
{"x":252,"y":3.75,"c":"r"},{"x":252,"y":3.58,"c":"r"},{"x":252,"y":3.5,"c":"r"},{"x":252,"y":3.18,"c":"r"},{"x":252,"y":3.08,"c":"r"},{"x":250.6,"y":3,"c":"r"},{"x":253.4,"y":3,"c":"r"},{"x":252,"y":2.92,"c":"r"},{"x":250.6,"y":2.83,"c":"r"},{"x":253.4,"y":2.83,"c":"r"},{"x":247.7,"y":2.75,"c":"r"},{"x":250.6,"y":2.75,"c":"r"},{"x":253.4,"y":2.75,"c":"r"},{"x":256.3,"y":2.75,"c":"r"},{"x":249.1,"y":2.67,"c":"r"},{"x":252,"y":2.67,"c":"r"},{"x":254.9,"y":2.67,"c":"r"},{"x":249.1,"y":2.58,"c":"r"},{"x":252,"y":2.58,"c":"r"},{"x":254.9,"y":2.58,"c":"r"},{"x":249.1,"y":2.5,"c":"r"},{"x":252,"y":2.5,"c":"r"},{"x":254.9,"y":2.5,"c":"r"},{"x":247.7,"y":2.42,"c":"r"},{"x":250.6,"y":2.42,"c":"r"},{"x":253.4,"y":2.42,"c":"r"},{"x":256.3,"y":2.42,"c":"b"},{"x":249.1,"y":2.33,"c":"r"},{"x":252,"y":2.33,"c":"b"},{"x":254.9,"y":2.33,"c":"r"},{"x":246.2,"y":2.28,"c":"r"},{"x":249.1,"y":2.26,"c":"r"},{"x":252,"y":2.26,"c":"r"},{"x":254.9,"y":2.26,"c":"r"},{"x":240.5,"y":2.17,"c":"r"},{"x":243.4,"y":2.17,"c":"r"},{"x":246.2,"y":2.17,"c":"r"},{"x":249.1,"y":2.17,"c":"r"},{"x":252,"y":2.17,"c":"b"},{"x":254.9,"y":2.17,"c":"r"},{"x":257.8,"y":2.17,"c":"r"},{"x":260.6,"y":2.17,"c":"b"},{"x":263.5,"y":2.17,"c":"r"},{"x":249.1,"y":2.08,"c":"r"},{"x":252,"y":2.08,"c":"b"},{"x":254.9,"y":2.08,"c":"r"},{"x":241.9,"y":2,"c":"r"},{"x":244.8,"y":2,"c":"b"},{"x":247.7,"y":2,"c":"r"},{"x":250.6,"y":2,"c":"b"},{"x":253.4,"y":2,"c":"b"},{"x":256.3,"y":2,"c":"r"},{"x":259.2,"y":2,"c":"b"},{"x":262.1,"y":2,"c":"b"},{"x":250.6,"y":1.92,"c":"b"},{"x":253.4,"y":1.92,"c":"r"},{"x":247.7,"y":1.83,"c":"b"},{"x":250.6,"y":1.83,"c":"b"},{"x":253.4,"y":1.83,"c":"r"},{"x":256.3,"y":1.83,"c":"r"},{"x":252,"y":1.75,"c":"b"},{"x":249.1,"y":1.67,"c":"r"},{"x":252,"y":1.67,"c":"r"},{"x":254.9,"y":1.67,"c":"r"},{"x":249.1,"y":1.58,"c":"r"},{"x":252,"y":1.58,"c":"r"},{"x":254.9,"y":1.58,"c":"r"},{"x":249.1,"y":1.5,"c":"r"},{"x":252,"y":1.5,"c":"b"},{"x":254.9,"y":1.5,"c":"r"},{"x":250.6,"y":1.42,"c":"r"},{"x":253.4,"y":1.42,"c":"r"},{"x":252,"y":1.25,"c":"b"},{"x":252,"y":1.17,"c":"b"},{"x":252,"y":1.08,"c":"r"},{"x":252,"y":1,"c":"r"}],
"footer":[{"t":"Relationships Between Adolescent","x":0,"y":60},{"t":"Perception of Family Functioning and","x":0,"y":108},{"t":"Affective Symptomatology","x":0,"y":156}]
},
"vconcat":[
{"vconcat":[
{"hconcat":[
{"hconcat":[
{"width":203,"height":303,"layer":[
{"data":{"name":"shapeA"},"mark":{"type":"area","orient":"horizontal","interpolate":"monotone","fill":"#d6e0ec","stroke":"#a3afbb","strokeWidth":1.5},
"encoding":{"x":{"field":"l","type":"quantitative","scale":{"domain":[-29,29],"nice":false,"zero":false},"axis":{"values":[0],"labelExpr":"'BDI'","title":null,"grid":false,"domainColor":"black","domainWidth":3,"tickColor":"black","tickWidth":3,"tickSize":13,"labelFontSize":26,"labelFontWeight":"bold","labelColor":"black","labelPadding":5,"zindex":1}},"x2":{"field":"r"},"y":{"field":"y","type":"quantitative","scale":{"domain":[0,80],"nice":false},"axis":{"values":[0,20,40,60,80],"title":null,"grid":false,"domainColor":"black","domainWidth":3,"tickColor":"black","tickWidth":3,"tickSize":13,"labelFontSize":26,"labelFontWeight":"bold","labelColor":"black","labelPadding":4}}}},
{"data":{"name":"linesA"},"transform":[{"filter":"datum.m=='median'"}],"mark":{"type":"rule","color":"#97a5b5","strokeWidth":3},"encoding":{"x":{"field":"l","type":"quantitative"},"x2":{"field":"r"},"y":{"field":"y","type":"quantitative"}}},
{"data":{"name":"linesA"},"transform":[{"filter":"datum.m=='quartile'"}],"mark":{"type":"rule","color":"#97a5b5","strokeWidth":1.5,"strokeDash":[3,3]},"encoding":{"x":{"field":"l","type":"quantitative"},"x2":{"field":"r"},"y":{"field":"y","type":"quantitative"}}},
{"data":{"name":"dotsA"},"mark":{"type":"point","filled":true,"opacity":1,"size":22},
"encoding":{"x":{"field":"x","type":"quantitative"},"y":{"field":"y","type":"quantitative"},"color":{"field":"c","type":"nominal","scale":{"domain":["r","b"],"range":["#cc1f2b","#0c0cb8"]},"legend":null}}},
{"data":{"values":[{"t":"A","x":-51,"y":85}]},"mark":{"type":"text","align":"left","baseline":"alphabetic","fontSize":29,"fontWeight":"bold","color":"black"},"encoding":{"x":{"field":"x","type":"quantitative"},"y":{"field":"y","type":"quantitative"},"text":{"field":"t"}}}
]},
{"width":203,"height":303,"layer":[
{"data":{"name":"shapeB"},"mark":{"type":"area","orient":"horizontal","interpolate":"monotone","fill":"#d5e5e0","stroke":"#8aa69d","strokeWidth":1.5},
"encoding":{"x":{"field":"l","type":"quantitative","scale":{"domain":[-29,29],"nice":false,"zero":false},"axis":{"values":[0],"labelExpr":"'MASC'","title":null,"grid":false,"domainColor":"black","domainWidth":3,"tickColor":"black","tickWidth":3,"tickSize":13,"labelFontSize":26,"labelFontWeight":"bold","labelColor":"black","labelPadding":5,"zindex":1}},"x2":{"field":"r"},"y":{"field":"y","type":"quantitative","scale":{"domain":[0,120],"nice":false},"axis":{"values":[0,30,60,90,120],"title":null,"grid":false,"domainColor":"black","domainWidth":3,"tickColor":"black","tickWidth":3,"tickSize":13,"labelFontSize":26,"labelFontWeight":"bold","labelColor":"black","labelPadding":4}}}},
{"data":{"name":"linesB"},"transform":[{"filter":"datum.m=='median'"}],"mark":{"type":"rule","color":"#7f9a92","strokeWidth":3},"encoding":{"x":{"field":"l","type":"quantitative"},"x2":{"field":"r"},"y":{"field":"y","type":"quantitative"}}},
{"data":{"name":"linesB"},"transform":[{"filter":"datum.m=='quartile'"}],"mark":{"type":"rule","color":"#7f9a92","strokeWidth":1.5,"strokeDash":[6,3]},"encoding":{"x":{"field":"l","type":"quantitative"},"x2":{"field":"r"},"y":{"field":"y","type":"quantitative"}}},
{"data":{"name":"dotsB"},"mark":{"type":"point","filled":true,"opacity":1,"size":22},
"encoding":{"x":{"field":"x","type":"quantitative"},"y":{"field":"y","type":"quantitative"},"color":{"field":"c","type":"nominal","scale":{"domain":["r","b"],"range":["#cc1f2b","#0c0cb8"]},"legend":null}}},
{"data":{"values":[{"t":"B","x":-54,"y":127.5}]},"mark":{"type":"text","align":"left","baseline":"alphabetic","fontSize":29,"fontWeight":"bold","color":"black"},"encoding":{"x":{"field":"x","type":"quantitative"},"y":{"field":"y","type":"quantitative"},"text":{"field":"t"}}}
]}
],"spacing":55},
{"width":203,"height":303,"layer":[
{"data":{"name":"shapeC"},"mark":{"type":"area","orient":"horizontal","interpolate":"monotone","fill":"#dcc5c5","stroke":"#c0a5a8","strokeWidth":1.5},
"encoding":{"detail":{"field":"s"},"x":{"field":"l","type":"quantitative","scale":{"domain":[3.33,61.67],"nice":false,"zero":false},"axis":{"values":[20,45],"labelExpr":"datum.value==20?'TEPS-A':'TEPS-C'","labelAngle":-45,"labelAlign":"right","labelBaseline":"middle","title":null,"grid":false,"domainColor":"black","domainWidth":3,"tickColor":"black","tickWidth":3,"tickSize":13,"labelFontSize":26,"labelFontWeight":"bold","labelColor":"black","labelPadding":21,"zindex":1}},"x2":{"field":"r"},"y":{"field":"y","type":"quantitative","scale":{"domain":[0,80],"nice":false},"axis":{"values":[0,20,40,60,80],"title":null,"grid":false,"domainColor":"black","domainWidth":3,"tickColor":"black","tickWidth":3,"tickSize":13,"labelFontSize":26,"labelFontWeight":"bold","labelColor":"black","labelPadding":4}}}},
{"data":{"name":"linesC"},"transform":[{"filter":"datum.m=='median'"}],"mark":{"type":"rule","color":"#b39a9c","strokeWidth":2},"encoding":{"x":{"field":"l","type":"quantitative"},"x2":{"field":"r"},"y":{"field":"y","type":"quantitative"}}},
{"data":{"name":"linesC"},"transform":[{"filter":"datum.m=='quartile'"}],"mark":{"type":"rule","color":"#b39a9c","strokeWidth":1,"strokeDash":[3,3]},"encoding":{"x":{"field":"l","type":"quantitative"},"x2":{"field":"r"},"y":{"field":"y","type":"quantitative"}}},
{"data":{"name":"dotsC"},"mark":{"type":"point","filled":true,"opacity":1,"size":23},
"encoding":{"x":{"field":"x","type":"quantitative"},"y":{"field":"y","type":"quantitative"},"color":{"field":"c","type":"nominal","scale":{"domain":["r","b"],"range":["#dd1f2b","#0c0cb8"]},"legend":null}}},
{"data":{"values":[{"t":"C","x":-18.2,"y":85}]},"mark":{"type":"text","align":"left","baseline":"alphabetic","fontSize":29,"fontWeight":"bold","color":"black"},"encoding":{"x":{"field":"x","type":"quantitative"},"y":{"field":"y","type":"quantitative"},"text":{"field":"t"}}}
]}
],"spacing":61},
{"width":843,"height":443,"layer":[
{"data":{"name":"shapeD"},"mark":{"type":"area","orient":"horizontal","interpolate":"monotone","strokeWidth":2},
"encoding":{"x":{"field":"l","type":"quantitative","scale":{"domain":[-28.72,288.5],"nice":false,"zero":false},"axis":null},"x2":{"field":"r"},"y":{"field":"y","type":"quantitative","scale":{"domain":[0.224,4],"nice":false,"zero":false},"axis":{"values":[1,2,3,4],"offset":-108,"format":"d","title":"FAD Score","titleFontSize":33,"titleFontWeight":"bold","titleColor":"#111","titlePadding":35,"titleY":235,"grid":false,"domainColor":"#333","domainWidth":1.5,"tickColor":"#333","tickWidth":1.5,"tickSize":15,"labelFontSize":30,"labelFontWeight":"bold","labelColor":"#111","labelPadding":6}},
"fill":{"field":"s","type":"nominal","legend":null,"scale":{"domain":[36,72,108,144,180,216,252],"range":["#e8d6c8","#dcdcf5","#dfe6d4","#d3e7e0","#d5dfec","#fbf3d4","#eed5d5"]}},
"stroke":{"field":"s","type":"nominal","legend":null,"scale":{"domain":[36,72,108,144,180,216,252],"range":["#b08f7c","#9a8fc9","#8a9a82","#7f9f97","#8d9cb0","#d4c98a","#b99a9e"]}}}},
{"data":{"name":"linesD"},"mark":{"type":"rule","color":"#8f9a86","strokeWidth":1,"strokeDash":[4,3]},"encoding":{"x":{"field":"l","type":"quantitative"},"x2":{"field":"r"},"y":{"field":"y","type":"quantitative"}}},
{"data":{"name":"dotsD"},"mark":{"type":"point","filled":true,"opacity":1,"size":25},
"encoding":{"x":{"field":"x","type":"quantitative"},"y":{"field":"y","type":"quantitative"},"color":{"field":"c","type":"nominal","scale":{"domain":["r","b"],"range":["#cc1f2b","#0c0cb8"]},"legend":null}}},
{"data":{"values":[{"t":"D","x":-57.7,"y":4.137}]},"mark":{"type":"text","align":"left","baseline":"alphabetic","fontSize":29,"fontWeight":"bold","color":"black"},"encoding":{"x":{"field":"x","type":"quantitative"},"y":{"field":"y","type":"quantitative"},"text":{"field":"t"}}}
]}
],"spacing":-12},
{"width":885,"height":240,"layer":[
{"data":{"values":[{"x":0,"x2":970,"y":0}]},"mark":{"type":"rule","color":"#0f8a7c","strokeWidth":1.5},"encoding":{"x":{"field":"x","type":"quantitative","scale":{"domain":[85,970],"nice":false,"zero":false},"axis":null},"x2":{"field":"x2"},"y":{"field":"y","type":"quantitative","scale":{"domain":[240,0],"nice":false,"zero":false},"axis":null}}},
{"data":{"name":"footer"},"mark":{"type":"text","align":"left","baseline":"alphabetic","font":"Open Sans","fontSize":34.3,"fontWeight":"bold","color":"#0d7c70"},"encoding":{"x":{"field":"x","type":"quantitative"},"y":{"field":"y","type":"quantitative"},"text":{"field":"t"}}},
{"data":{"values":[{"t":"As published in","x":970,"y":58}]},"mark":{"type":"text","align":"right","baseline":"alphabetic","font":"Open Sans","fontSize":28.5,"fontWeight":"bold","color":"#0d7c70"},"encoding":{"x":{"field":"x","type":"quantitative"},"y":{"field":"y","type":"quantitative"},"text":{"field":"t"}}},
{"data":{"values":[{"x":788,"x2":936,"y":77,"y2":225}]},"mark":{"type":"rect","color":"#00a88f"},"encoding":{"x":{"field":"x","type":"quantitative"},"x2":{"field":"x2"},"y":{"field":"y","type":"quantitative"},"y2":{"field":"y2"}}},
{"data":{"values":[{"x":862,"y":151}]},"mark":{"type":"circle","color":"white","opacity":1,"size":14641},"encoding":{"x":{"field":"x","type":"quantitative"},"y":{"field":"y","type":"quantitative"}}},
{"data":{"values":[{"t":"JAACAP","x":862,"y":150}]},"mark":{"type":"text","align":"center","baseline":"alphabetic","font":"Lato","fontSize":32.5,"fontWeight":300,"color":"#d4754a"},"encoding":{"x":{"field":"x","type":"quantitative"},"y":{"field":"y","type":"quantitative"},"text":{"field":"t"}}},
{"data":{"values":[{"t":"OPEN","x":862,"y":176}]},"mark":{"type":"text","align":"center","baseline":"alphabetic","font":"Lato","fontSize":27,"fontWeight":300,"color":"#6b6f72"},"encoding":{"x":{"field":"x","type":"quantitative"},"y":{"field":"y","type":"quantitative"},"text":{"field":"t"}}}
]}
],"spacing":30}
